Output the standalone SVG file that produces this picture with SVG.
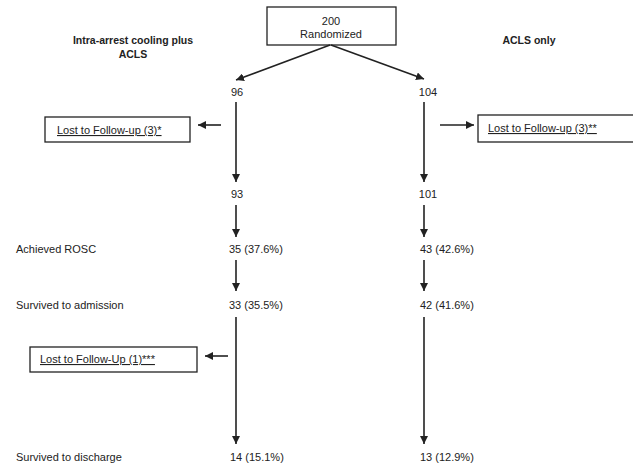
<svg xmlns="http://www.w3.org/2000/svg" width="633" height="464" viewBox="0 0 633 464">
<style>
text{font-family:"Liberation Sans",Arial,sans-serif;font-size:11px;fill:#222}
.b{font-weight:bold;font-size:10.5px}
.u{text-decoration:underline}
.box{fill:#fff;stroke:#222;stroke-width:1.3}
.c line{stroke:#222;stroke-width:1.6;marker-end:url(#ah)}
</style>
<defs>
<marker id="ah" viewBox="0 0 10 10" refX="10" refY="5" markerWidth="5" markerHeight="5" orient="auto" markerUnits="strokeWidth">
<path d="M0,0L10,5L0,10z" fill="#222"/>
</marker>
</defs>
<rect width="633" height="464" fill="#fff"/>
<g id="hdr-left"><text class="b" x="133" y="44" text-anchor="middle">Intra-arrest cooling plus</text><text class="b" x="133" y="58" text-anchor="middle">ACLS</text></g>
<g id="hdr-right"><text class="b" x="529" y="44" text-anchor="middle">ACLS only</text></g>
<g id="rand"><rect class="box" x="267" y="7" width="129" height="38"/><text x="331" y="25" text-anchor="middle">200</text><text x="331" y="38" text-anchor="middle">Randomized</text></g>
<g id="n96"><text x="237" y="96" text-anchor="middle">96</text></g>
<g id="n104"><text x="428" y="96" text-anchor="middle">104</text></g>
<g id="lost-left"><rect class="box" x="45" y="117" width="145" height="25"/><text class="u" x="57" y="134">Lost to Follow-up (3)*</text></g>
<g id="lost-right"><rect class="box" x="478" y="115" width="160" height="27"/><text class="u" x="488" y="132">Lost to Follow-up (3)**</text></g>
<g id="n93"><text x="237" y="198" text-anchor="middle">93</text></g>
<g id="n101"><text x="428" y="198" text-anchor="middle">101</text></g>
<g id="lbl-rosc"><text x="16" y="253">Achieved ROSC</text></g>
<g id="n35"><text x="229" y="253">35 (37.6%)</text></g>
<g id="n43"><text x="420" y="253">43 (42.6%)</text></g>
<g id="lbl-adm"><text x="16" y="309">Survived to admission</text></g>
<g id="n33"><text x="229" y="309">33 (35.5%)</text></g>
<g id="n42"><text x="420" y="309">42 (41.6%)</text></g>
<g id="lost-left2"><rect class="box" x="30" y="347" width="167" height="25"/><text class="u" x="40" y="363">Lost to Follow-Up (1)***</text></g>
<g id="lbl-dis"><text x="16" y="461">Survived to discharge</text></g>
<g id="n14"><text x="230" y="461">14 (15.1%)</text></g>
<g id="n13"><text x="420" y="461">13 (12.9%)</text></g>
<g class="c" id="connectors">
<line x1="330" y1="45" x2="236" y2="80"/>
<line x1="331" y1="45" x2="424" y2="79"/>
<line x1="236" y1="102" x2="236" y2="182"/>
<line x1="424" y1="102" x2="424" y2="182"/>
<line x1="221" y1="125" x2="198" y2="125"/>
<line x1="440" y1="125" x2="474" y2="125"/>
<line x1="236" y1="205" x2="236" y2="237"/>
<line x1="424" y1="205" x2="424" y2="237"/>
<line x1="236" y1="260" x2="236" y2="291"/>
<line x1="424" y1="260" x2="424" y2="291"/>
<line x1="228" y1="356" x2="205" y2="356"/>
<line x1="236" y1="317" x2="236" y2="444"/>
<line x1="424" y1="317" x2="424" y2="444"/>
</g>
</svg>
